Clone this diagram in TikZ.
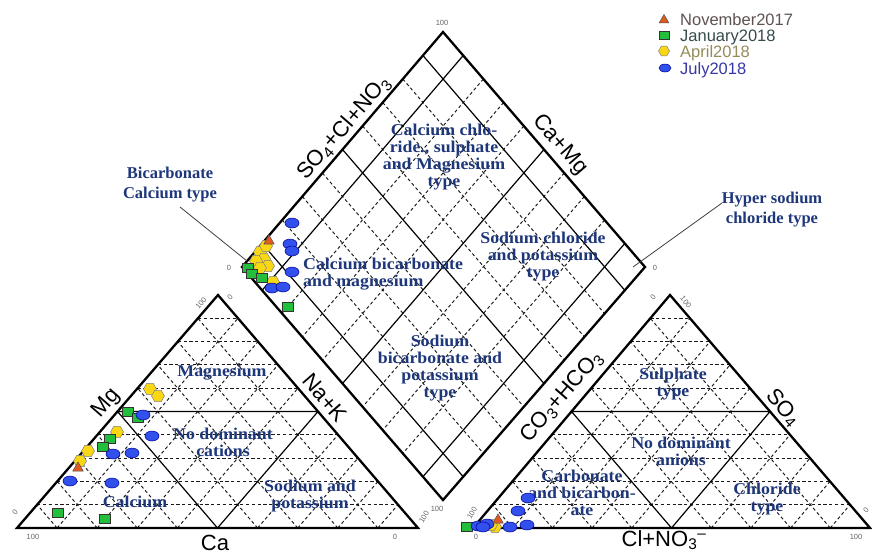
\documentclass[tikz,border=0pt]{standalone}
\usepackage{fontspec}
\setmainfont{Liberation Serif}
\setsansfont{Liberation Sans}
\newfontfamily\regfont[FakeStretch=1.08]{Liberation Serif}
\usetikzlibrary{shapes.geometric,calc}
\definecolor{regblue}{RGB}{30,55,122}
\definecolor{novc}{RGB}{95,82,82}
\definecolor{janc}{RGB}{55,75,75}
\definecolor{aprc}{RGB}{150,140,90}
\definecolor{julc}{RGB}{55,55,165}
\definecolor{mkorange}{RGB}{225,90,30}
\definecolor{mkgreen}{RGB}{35,190,60}
\definecolor{mkyellow}{RGB}{250,215,20}
\definecolor{mkblue}{RGB}{50,80,235}
\begin{document}
\begin{tikzpicture}[x=1pt,y=-1pt,
  edge/.style={line width=2.3pt, line join=miter},
  gridline/.style={line width=0.95pt, dash pattern=on 3.2pt off 2.6pt, black!90},
  divline/.style={line width=1.2pt},
  reglabel/.style={font=\regfont\fontsize{16.5}{17}\selectfont\bfseries, text=regblue, align=center, inner sep=0pt},
  annlabel/.style={font=\fontsize{16.5}{20}\selectfont\bfseries, text=regblue, align=center, inner sep=0pt},
  axlabel/.style={font=\sffamily\fontsize{22}{24}\selectfont, inner sep=0pt},
  tick/.style={font=\sffamily\fontsize{7.5}{8}\selectfont, text=black!60, inner sep=0pt},
  legtext/.style={font=\sffamily\fontsize{16.5}{18}\selectfont, anchor=base west, inner sep=0pt},
  pointer/.style={line width=0.8pt, black!75},
  mN/.style={regular polygon, regular polygon sides=3, fill=mkorange, draw=black!70, line width=0.5pt, minimum size=12pt, inner sep=0pt},
  mJ/.style={rectangle, fill=mkgreen, draw=black!80, line width=0.6pt, minimum width=11pt, minimum height=9pt, inner sep=0pt},
  mA/.style={regular polygon, regular polygon sides=6, fill=mkyellow, draw=black!50, line width=0.5pt, minimum size=13pt, inner sep=0pt},
  mL/.style={ellipse, fill=mkblue, draw=blue!60!black, line width=0.5pt, minimum width=14pt, minimum height=10pt, inner sep=0pt}
]
\useasboundingbox (0,0) rectangle (872,555);
\fill[white] (0,0) rectangle (872,555);

% ---------- coordinates
\coordinate (LA) at (17,528);  \coordinate (LB) at (418,528); \coordinate (LC) at (218,295);
\coordinate (RA) at (473,528); \coordinate (RB) at (870,528); \coordinate (RC) at (670,295);
\coordinate (DT) at (443,32);  \coordinate (DL) at (242,267); \coordinate (DR) at (645,267); \coordinate (DB) at (443,500);

% ---------- triangle grids
\foreach \t in {0.1,0.2,0.3,0.4,0.6,0.7,0.8,0.9}{
  \draw[gridline] ($(LA)!\t!(LC)$) -- ($(LB)!\t!(LC)$);
  \draw[gridline] ($(LA)!\t!(LB)$) -- ($(LC)!\t!(LB)$);
  \draw[gridline] ($(LB)!\t!(LA)$) -- ($(LC)!\t!(LA)$);
  \draw[gridline] ($(RA)!\t!(RC)$) -- ($(RB)!\t!(RC)$);
  \draw[gridline] ($(RA)!\t!(RB)$) -- ($(RC)!\t!(RB)$);
  \draw[gridline] ($(RB)!\t!(RA)$) -- ($(RC)!\t!(RA)$);
}
\draw[divline] ($(LA)!0.5!(LC)$) -- ($(LB)!0.5!(LC)$) -- ($(LA)!0.5!(LB)$) -- cycle;
\draw[divline] ($(RA)!0.5!(RC)$) -- ($(RB)!0.5!(RC)$) -- ($(RA)!0.5!(RB)$) -- cycle;

% ---------- diamond grid
\foreach \t in {0.2,0.3,0.4,0.6,0.7,0.8}{
  \draw[gridline] ($(DT)!\t!(DR)$) -- ($(DL)!\t!(DB)$);
  \draw[gridline] ($(DT)!\t!(DL)$) -- ($(DR)!\t!(DB)$);
}
\foreach \t in {0.1,0.5,0.9}{
  \draw[divline] ($(DT)!\t!(DR)$) -- ($(DL)!\t!(DB)$);
  \draw[divline] ($(DT)!\t!(DL)$) -- ($(DR)!\t!(DB)$);
}

% ---------- outlines
\draw[edge] (LA) -- (LB) -- (LC) -- cycle;
\draw[edge] (RA) -- (RB) -- (RC) -- cycle;
\draw[edge] (DT) -- (DR) -- (DB) -- (DL) -- cycle;

% ---------- region labels
\node[reglabel] (magn) at (222,373) {Magnesium};
\node[reglabel] (ndc) at (223,442) {No dominant\\cations};
\node[reglabel] (calc) at (135,502) {Calcium};
\node[reglabel] (snk) at (310,496) {Sodium and\\potassium};
\node[reglabel] (sulph) at (673,384) {Sulphate\\type};
\node[reglabel] (nda) at (681,451) {No dominant\\anions};
\node[reglabel] (carb) at (582,493) {Carbonate\\and bicarbon-\\ate};
\node[reglabel] (chl) at (767,499) {Chloride\\type};
\node[reglabel] (ccs) at (444,157) {Calcium chlo-\\ride., sulphate\\and Magnesium\\type};
\node[reglabel, align=left, anchor=west] (cbm) at (303,274) {Calcium bicarbonate\\and magnesium};
\node[reglabel] (snc) at (543,257) {Sodium chloride\\and potassium\\type};
\node[reglabel] (sbp) at (440,368) {Sodium\\bicarbonate and\\potassium\\type};

% ---------- annotations
\node[annlabel] (bct) at (170,185) {Bicarbonate\\Calcium type};
\node[annlabel] (hsc) at (772,210) {Hyper sodium\\chloride type};
\coordinate (bcs) at (180,207); \coordinate (bce) at (247,261);
\coordinate (hss) at (722,203); \coordinate (hse) at (633,267);
\draw[pointer] (bcs) -- (bce);
\draw[pointer] (hss) -- (hse);

% ---------- axis labels
\node[axlabel] (axca) at (215,543) {Ca};
\node[axlabel, rotate=49] (axmg) at (107,403) {Mg};
\node[axlabel, rotate=-49] (axnak) at (325,398) {Na+K};
\node[axlabel, rotate=49] (axso) at (344,128) {SO\textsubscript{4}+Cl+NO\textsubscript{3}};
\node[axlabel, rotate=-49] (axcamg) at (560,145) {Ca+Mg};
\node[axlabel, rotate=49] (axco) at (562,397) {CO\textsubscript{3}+HCO\textsubscript{3}};
\node[axlabel, rotate=-49] (axso4) at (783,408) {SO\textsubscript{4}};
\node[axlabel] (axcl) at (664,540) {Cl+NO\textsubscript{3}\textsuperscript{--}};

% ---------- tick labels
\node[tick, rotate=49] (t1) at (201,303) {100};
\node[tick, rotate=49] (t2) at (230,297) {0};
\node[tick, rotate=49] (t3) at (15,512) {0};
\node[tick] (t4) at (33,537) {100};
\node[tick] (t5) at (395,537) {0};
\node[tick, rotate=60] (t6) at (424,517) {100};
\node[tick, rotate=49] (t7) at (653,297) {0};
\node[tick, rotate=-49] (t8) at (686,302) {100};
\node[tick, rotate=60] (t9) at (472,513) {100};
\node[tick] (t10) at (476,537) {0};
\node[tick] (t11) at (856,537) {100};
\node[tick, rotate=49] (t12) at (866,510) {0};
\node[tick] (t13) at (442,23) {100};
\node[tick] (t14) at (229,268) {0};
\node[tick] (t15) at (655,268) {0};
\node[tick] (t16) at (437,509) {100};

% ---------- data points
\foreach \x/\y [count=\i] in {150/389,158/396,117/432,88/451,80/461,260/252,264/259,268/266,256/261,260/268,266/246,273/282,495/527,491/525}
  \node[mA] (a\i) at (\x,\y) {};
\foreach \x/\y [count=\i] in {128/412,138/418,110/439,103/447,58/513,105/519,248/268,252/274,262/278,288/307,467/527}
  \node[mJ] (j\i) at (\x,\y) {};
\foreach \x/\y [count=\i] in {143/415,152/436,113/454,132/453,70/481,112/483,292/223,290/244,292/251,292/272,272/288,283/287,528/498,518/511,478/526,487/524,510/527,527/525,483/527}
  \node[mL] (l\i) at (\x,\y) {};
\foreach \x/\y [count=\i] in {78/468,269/241,498/520}
  \node[mN] (n\i) at (\x,\y) {};

% ---------- legend
\node[mN, minimum size=11pt] (kn) at (664,20) {};
\node[mJ, minimum width=10pt, minimum height=8pt] (kj) at (664,35) {};
\node[mA, minimum size=11pt] (ka) at (664,51) {};
\node[mL, minimum width=12pt, minimum height=8pt] (kl) at (665,68) {};
\node[legtext, text=novc] (tn) at (680,25.5) {November2017};
\node[legtext, text=janc] (tj) at (680,41) {January2018};
\node[legtext, text=aprc] (ta) at (680,57) {April2018};
\node[legtext, text=julc] (tl) at (680,74) {July2018};
\end{tikzpicture}
\end{document}
